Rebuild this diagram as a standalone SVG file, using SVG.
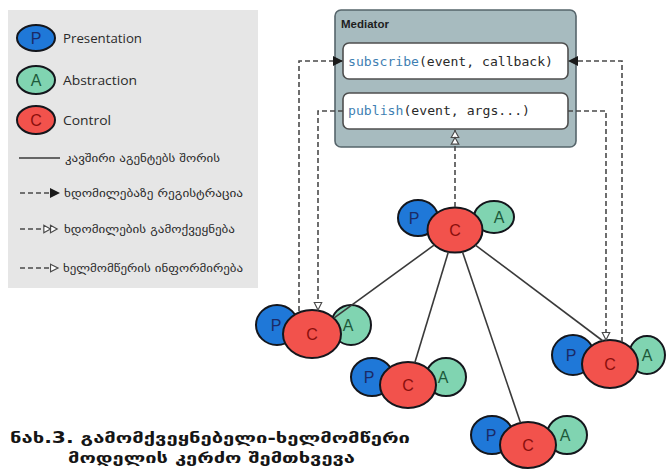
<svg xmlns="http://www.w3.org/2000/svg" width="667" height="471" viewBox="0 0 667 471">
  <style>
    .pe { fill: #1f78d8; stroke: #14161c; stroke-width: 2; }
    .ae { fill: #80d4b1; stroke: #14161c; stroke-width: 2; }
    .ce { fill: #f2524c; stroke: #14161c; stroke-width: 2; }
    .lt { font-family: "Liberation Sans", "Open Sans", sans-serif; font-size: 16px; text-anchor: middle; }
    .pl { fill: #1b2a66; }
    .al { fill: #1d5a3a; }
    .cl { fill: #8a0f0c; }
    .leg { font-family: "Open Sans", "Liberation Sans", sans-serif; font-size: 13px; fill: #2a2a2a; }
    .geo { font-family: "DejaVu Sans", sans-serif; font-size: 11px; fill: #2a2a2a; }
    .solid { fill: none; stroke: #3a3a3a; stroke-width: 1.6; }
    .dash { fill: none; stroke: #4a4a4a; stroke-width: 1.6; stroke-dasharray: 5 3; }
    .mono { font-family: "DejaVu Sans Mono", "Liberation Mono", monospace; font-size: 13px; fill: #2a2a2a; }
    .kw { fill: #3f7fb2; }
    .cap { font-family: "DejaVu Sans", sans-serif; font-size: 15px; font-weight: bold; fill: #151515; }
  </style>
  <defs>
    <!-- registration: filled head -->
    <marker id="reg" viewBox="0 0 10 10" refX="10" refY="5" markerWidth="10" markerHeight="10" markerUnits="userSpaceOnUse" orient="auto">
      <path d="M0,0 L10,5 L0,10 z" fill="#1a1a1a"/>
    </marker>
    <!-- notification: single open head -->
    <marker id="notify" viewBox="-1 -1 12 12" refX="9" refY="5" markerWidth="10" markerHeight="10" markerUnits="userSpaceOnUse" orient="auto">
      <path d="M0,0.5 L9,5 L0,9.5 z" fill="#fff" stroke="#4a4a4a" stroke-width="1.4"/>
    </marker>
    <!-- publication: double open head -->
    <marker id="pub" viewBox="-1 -1 20 12" refX="17" refY="5" markerWidth="20" markerHeight="10" markerUnits="userSpaceOnUse" orient="auto">
      <path d="M0,0.5 L8,5 L0,9.5 z M8,0.5 L16,5 L8,9.5 z" fill="#fff" stroke="#4a4a4a" stroke-width="1.4"/>
    </marker>
  </defs>

  <rect width="667" height="471" fill="#fff"/>

  <!-- legend -->
  <g id="legend">
    <rect x="8" y="10" width="250" height="278" fill="#e6e6e6"/>
    <ellipse class="pe" cx="36" cy="38" rx="19" ry="13"/>
    <text class="lt pl" x="36" y="44" font-size="14">P</text>
    <text class="leg" x="63" y="43" textLength="79" lengthAdjust="spacingAndGlyphs">Presentation</text>
    <ellipse class="ae" cx="36" cy="80" rx="19" ry="14"/>
    <text class="lt al" x="36" y="86" font-size="14">A</text>
    <text class="leg" x="63" y="85" textLength="74" lengthAdjust="spacingAndGlyphs">Abstraction</text>
    <ellipse class="ce" cx="36" cy="120" rx="19" ry="14"/>
    <text class="lt cl" x="36" y="126" font-size="14">C</text>
    <text class="leg" x="63" y="125" textLength="48" lengthAdjust="spacingAndGlyphs">Control</text>

    <path class="solid" d="M19,158 H60"/>
    <text class="geo" x="65" y="162" textLength="155" lengthAdjust="spacingAndGlyphs">კავშირი აგენტებს შორის</text>

    <path class="dash" d="M20,193 H60" marker-end="url(#reg)"/>
    <text class="geo" x="64" y="197" textLength="179" lengthAdjust="spacingAndGlyphs">ხდომილებაზე რეგისტრაცია</text>

    <path class="dash" d="M20,229 H58" marker-end="url(#pub)"/>
    <text class="geo" x="64" y="233" textLength="171" lengthAdjust="spacingAndGlyphs">ხდომილების გამოქვეყნება</text>

    <path class="dash" d="M20,268 H58" marker-end="url(#notify)"/>
    <text class="geo" x="63" y="272" textLength="180" lengthAdjust="spacingAndGlyphs">ხელმომწერის ინფორმირება</text>
  </g>

  <!-- mediator -->
  <g id="mediator">
    <rect x="335" y="10" width="241" height="137" rx="6" fill="#a7bbbf" stroke="#56656b" stroke-width="1.6"/>
    <text x="341" y="28" font-family="Liberation Sans, sans-serif" font-size="11.5" font-weight="bold" fill="#1e1e1e">Mediator</text>
    <rect x="343" y="43" width="225" height="36" rx="6" fill="#fff" stroke="#4f4f4f" stroke-width="1.6"/>
    <text class="mono" x="348" y="66" textLength="205" lengthAdjust="spacingAndGlyphs"><tspan class="kw">subscribe</tspan>(event, callback)</text>
    <rect x="343" y="93" width="225" height="36" rx="6" fill="#fff" stroke="#4f4f4f" stroke-width="1.6"/>
    <text class="mono" x="348" y="115" textLength="182" lengthAdjust="spacingAndGlyphs"><tspan class="kw">publish</tspan>(event, args...)</text>
  </g>

  <!-- agents -->
  <g id="agent-top">
    <ellipse class="pe" cx="418" cy="218" rx="20" ry="18"/>
    <ellipse class="ae" cx="494" cy="217" rx="20" ry="16"/>
    <ellipse class="ce" cx="455" cy="230" rx="27.5" ry="22.5"/>
    <text class="lt pl" x="414" y="224">P</text>
    <text class="lt al" x="499" y="223">A</text>
    <text class="lt cl" x="455" y="236">C</text>
  </g>
  <g id="agent-left">
    <ellipse class="pe" cx="277" cy="325" rx="21" ry="20"/>
    <ellipse class="ae" cx="351" cy="325" rx="20" ry="20"/>
    <ellipse class="ce" cx="312" cy="334" rx="29" ry="24"/>
    <text class="lt pl" x="276" y="331">P</text>
    <text class="lt al" x="348" y="331">A</text>
    <text class="lt cl" x="312" y="340">C</text>
  </g>
  <g id="agent-middle">
    <ellipse class="pe" cx="372" cy="377" rx="21" ry="19"/>
    <ellipse class="ae" cx="446" cy="377" rx="20" ry="19"/>
    <ellipse class="ce" cx="408" cy="385" rx="28" ry="23"/>
    <text class="lt pl" x="369" y="383">P</text>
    <text class="lt al" x="443" y="383">A</text>
    <text class="lt cl" x="408" y="391">C</text>
  </g>
  <g id="agent-right">
    <ellipse class="pe" cx="573" cy="355" rx="21" ry="20"/>
    <ellipse class="ae" cx="647" cy="355" rx="18" ry="19"/>
    <ellipse class="ce" cx="610" cy="364" rx="28" ry="24"/>
    <text class="lt pl" x="571" y="361">P</text>
    <text class="lt al" x="647" y="361">A</text>
    <text class="lt cl" x="610" y="370">C</text>
  </g>
  <g id="agent-bottom">
    <ellipse class="pe" cx="492" cy="435" rx="21" ry="19"/>
    <ellipse class="ae" cx="567" cy="435" rx="20" ry="19"/>
    <ellipse class="ce" cx="528" cy="445" rx="28" ry="23"/>
    <text class="lt pl" x="491" y="441">P</text>
    <text class="lt al" x="565" y="441">A</text>
    <text class="lt cl" x="528" y="451">C</text>
  </g>

  <!-- connectors -->
  <g id="connectors">
    <path class="solid" d="M434.4,244.9 L333.8,318.2"/>
    <path class="solid" d="M448.4,251.8 L414.8,362.7"/>
    <path class="solid" d="M462.4,251.7 L520.5,422.8"/>
    <path class="solid" d="M475.4,245.1 L603,341"/>

    <path class="dash" d="M299,311 V61 H343" marker-end="url(#reg)"/>
    <path class="dash" d="M343,111 H318 V310" marker-end="url(#notify)"/>
    <path class="dash" d="M622,342 V61 H568" marker-end="url(#reg)"/>
    <path class="dash" d="M568,111 H606 V340" marker-end="url(#notify)"/>
    <path class="dash" d="M455,207 V130" marker-end="url(#pub)"/>
  </g>

  <!-- caption -->
  <g id="caption">
    <text class="cap" x="10" y="443" textLength="400" lengthAdjust="spacingAndGlyphs">ნახ.3.  გამომქვეყნებელი-ხელმომწერი</text>
    <text class="cap" x="68" y="463" textLength="287" lengthAdjust="spacingAndGlyphs">მოდელის  კერძო  შემთხვევა</text>
  </g>
</svg>
